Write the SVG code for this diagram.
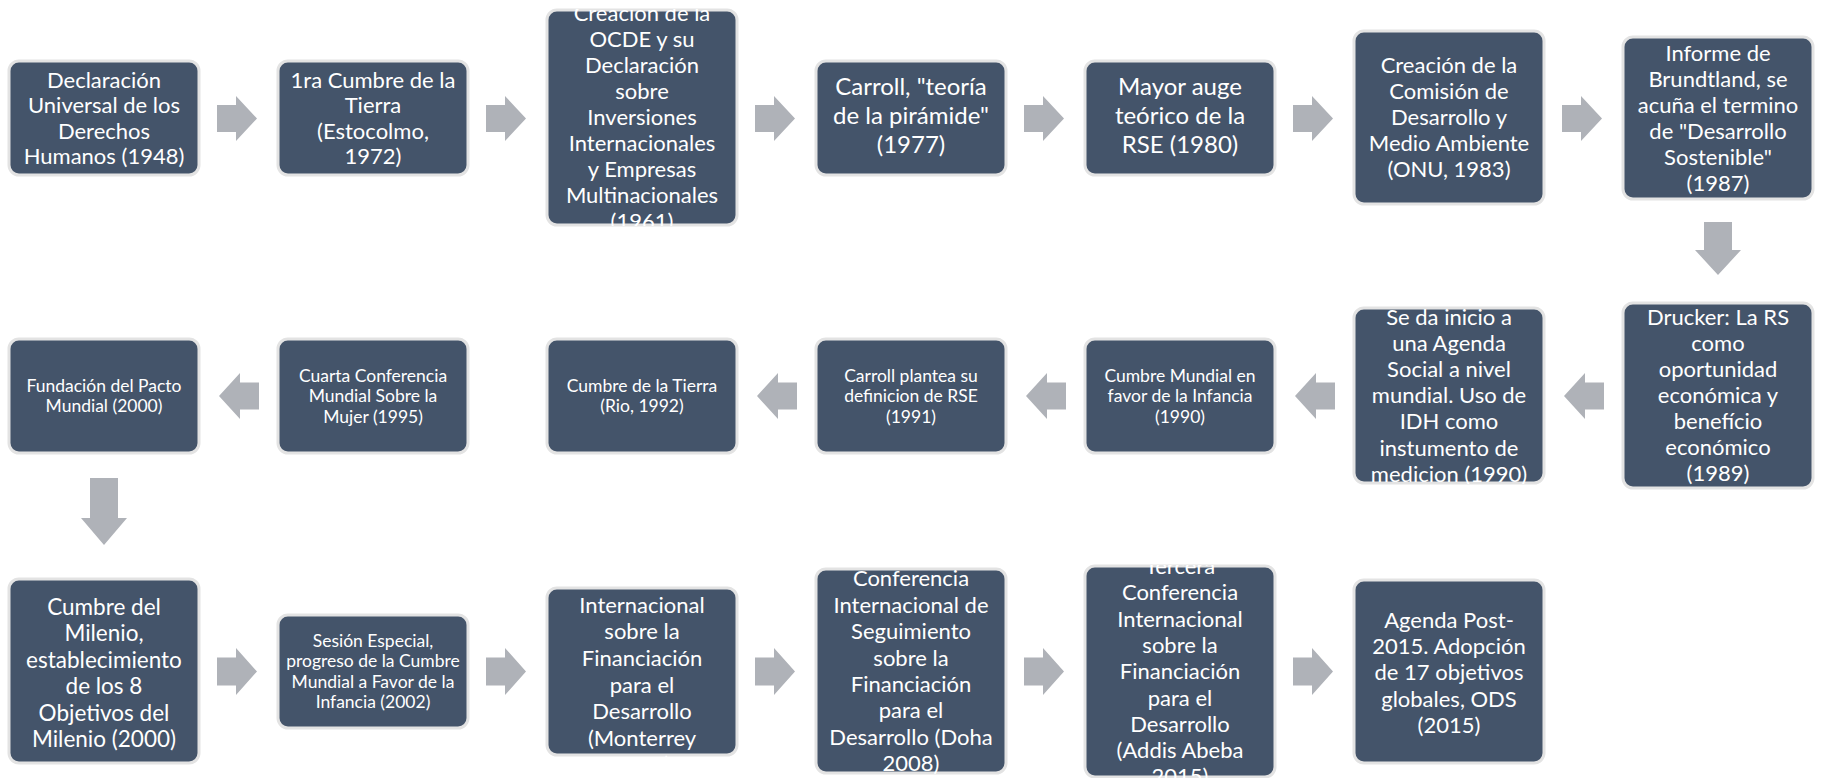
<svg xmlns="http://www.w3.org/2000/svg" width="1821" height="778" viewBox="0 0 1821 778">
<style>
.box{fill:#44546A;stroke:#E3E3E3;stroke-width:3}
.arr{fill:#AFB2B8}
text{font-family:Lato,"Liberation Sans",sans-serif;fill:#FFFFFF;text-anchor:middle}
.t22{font-size:22px}
.t24{font-size:24px}
.t225{font-size:22.5px}
.t17{font-size:17.5px}
</style>
<defs>
<clipPath id="cB3"><rect x="546" y="9" width="192" height="217" rx="10"/></clipPath>
<clipPath id="cR6"><rect x="1353" y="307" width="192" height="177" rx="10"/></clipPath>
<clipPath id="cC3"><rect x="546" y="587" width="192" height="170" rx="10"/></clipPath>
<clipPath id="cC4"><rect x="815" y="568" width="192" height="206" rx="10"/></clipPath>
<clipPath id="cC5"><rect x="1084" y="565" width="192" height="213" rx="10"/></clipPath>
</defs>
<rect width="1821" height="778" fill="#FFFFFF"/>

<g id="connectors">
<polygon class="arr" points="217,105 236,105 236,96 257,118.5 236,141 236,132 217,132"/>
<polygon class="arr" points="486,105 505,105 505,96 526,118.5 505,141 505,132 486,132"/>
<polygon class="arr" points="755,105 774,105 774,96 795,118.5 774,141 774,132 755,132"/>
<polygon class="arr" points="1024,105 1043,105 1043,96 1064,118.5 1043,141 1043,132 1024,132"/>
<polygon class="arr" points="1293,105 1312,105 1312,96 1333,118.5 1312,141 1312,132 1293,132"/>
<polygon class="arr" points="1562,105 1581,105 1581,96 1602,118.5 1581,141 1581,132 1562,132"/>
<polygon class="arr" points="1704,222 1732,222 1732,250 1741,250 1718,275 1695,250 1704,250"/>
<polygon class="arr" points="1564,396 1585,373 1585,382.5 1604,382.5 1604,409.5 1585,409.5 1585,419"/>
<polygon class="arr" points="1295,396 1316,373 1316,382.5 1335,382.5 1335,409.5 1316,409.5 1316,419"/>
<polygon class="arr" points="1026,396 1047,373 1047,382.5 1066,382.5 1066,409.5 1047,409.5 1047,419"/>
<polygon class="arr" points="757,396 778,373 778,382.5 797,382.5 797,409.5 778,409.5 778,419"/>
<polygon class="arr" points="219,396 240,373 240,382.5 259,382.5 259,409.5 240,409.5 240,419"/>
<polygon class="arr" points="90,478 118,478 118,518 127,518 104,545 81,518 90,518"/>
<polygon class="arr" points="217,657.5 236,657.5 236,648 257,671.5 236,695 236,685.5 217,685.5"/>
<polygon class="arr" points="486,657.5 505,657.5 505,648 526,671.5 505,695 505,685.5 486,685.5"/>
<polygon class="arr" points="755,657.5 774,657.5 774,648 795,671.5 774,695 774,685.5 755,685.5"/>
<polygon class="arr" points="1024,657.5 1043,657.5 1043,648 1064,671.5 1043,695 1043,685.5 1024,685.5"/>
<polygon class="arr" points="1293,657.5 1312,657.5 1312,648 1333,671.5 1312,695 1312,685.5 1293,685.5"/>
</g>

<g id="n1">
<rect class="box" x="9" y="61" width="190" height="114" rx="10"/>
<text class="t22"><tspan x="104" y="88">Declaración</tspan><tspan x="104" y="113">Universal de los</tspan><tspan x="104" y="139">Derechos</tspan><tspan x="104" y="164">Humanos (1948)</tspan></text>
</g>
<g id="n2">
<rect class="box" x="278" y="61" width="190" height="114" rx="10"/>
<text class="t22"><tspan x="373" y="88">1ra Cumbre de la</tspan><tspan x="373" y="113">Tierra</tspan><tspan x="373" y="139">(Estocolmo,</tspan><tspan x="373" y="164">1972)</tspan></text>
</g>
<g id="n3">
<rect class="box" x="547" y="10" width="190" height="215" rx="10"/>
<text class="t22" clip-path="url(#cB3)"><tspan x="642" y="21.2">Creación de la</tspan><tspan x="642" y="47.2">OCDE y su</tspan><tspan x="642" y="73.2">Declaración</tspan><tspan x="642" y="99.2">sobre</tspan><tspan x="642" y="125.2">Inversiones</tspan><tspan x="642" y="151.2">Internacionales</tspan><tspan x="642" y="177.2">y Empresas</tspan><tspan x="642" y="203.2">Multinacionales</tspan><tspan x="642" y="229.2">(1961)</tspan></text>
</g>
<g id="n4">
<rect class="box" x="816" y="61" width="190" height="114" rx="10"/>
<text class="t24"><tspan x="911" y="95.4">Carroll, "teoría</tspan><tspan x="911" y="124.4">de la pirámide"</tspan><tspan x="911" y="153.4">(1977)</tspan></text>
</g>
<g id="n5">
<rect class="box" x="1085" y="61" width="190" height="114" rx="10"/>
<text class="t24"><tspan x="1180" y="95.4">Mayor auge</tspan><tspan x="1180" y="124.4">teórico de la</tspan><tspan x="1180" y="153.4">RSE (1980)</tspan></text>
</g>
<g id="n6">
<rect class="box" x="1354" y="31" width="190" height="173" rx="10"/>
<text class="t22"><tspan x="1449" y="73.2">Creación de la</tspan><tspan x="1449" y="99.2">Comisión de</tspan><tspan x="1449" y="125.2">Desarrollo y</tspan><tspan x="1449" y="151.2">Medio Ambiente</tspan><tspan x="1449" y="177.2">(ONU, 1983)</tspan></text>
</g>
<g id="n7">
<rect class="box" x="1623" y="37" width="190" height="162" rx="10"/>
<text class="t22"><tspan x="1718" y="60.7">Informe de</tspan><tspan x="1718" y="86.7">Brundtland, se</tspan><tspan x="1718" y="112.7">acuña el termino</tspan><tspan x="1718" y="138.7">de "Desarrollo</tspan><tspan x="1718" y="164.7">Sostenible"</tspan><tspan x="1718" y="190.7">(1987)</tspan></text>
</g>

<g id="n8">
<rect class="box" x="1623" y="303" width="190" height="185" rx="10"/>
<text class="t22"><tspan x="1718" y="325.2">Drucker: La RS</tspan><tspan x="1718" y="351.2">como</tspan><tspan x="1718" y="377.2">oportunidad</tspan><tspan x="1718" y="403.2">económica y</tspan><tspan x="1718" y="429.2">benefício</tspan><tspan x="1718" y="455.2">económico</tspan><tspan x="1718" y="481.2">(1989)</tspan></text>
</g>
<g id="n9">
<rect class="box" x="1354" y="308" width="190" height="175" rx="10"/>
<text class="t22" clip-path="url(#cR6)"><tspan x="1449" y="324.7">Se da inicio a</tspan><tspan x="1449" y="350.9">una Agenda</tspan><tspan x="1449" y="377">Social a nivel</tspan><tspan x="1449" y="403.2">mundial. Uso de</tspan><tspan x="1449" y="429.4">IDH como</tspan><tspan x="1449" y="455.6">instumento de</tspan><tspan x="1449" y="481.7">medicion (1990)</tspan></text>
</g>
<g id="n10">
<rect class="box" x="1085" y="339" width="190" height="114" rx="10"/>
<text class="t17"><tspan x="1180" y="381.6">Cumbre Mundial en</tspan><tspan x="1180" y="402.1">favor de la Infancia</tspan><tspan x="1180" y="422.6">(1990)</tspan></text>
</g>
<g id="n11">
<rect class="box" x="816" y="339" width="190" height="114" rx="10"/>
<text class="t17"><tspan x="911" y="381.6">Carroll plantea su</tspan><tspan x="911" y="402.1">definicion de RSE</tspan><tspan x="911" y="422.6">(1991)</tspan></text>
</g>
<g id="n12">
<rect class="box" x="547" y="339" width="190" height="114" rx="10"/>
<text class="t17"><tspan x="642" y="391.9">Cumbre de la Tierra</tspan><tspan x="642" y="412.4">(Rio, 1992)</tspan></text>
</g>
<g id="n13">
<rect class="box" x="278" y="339" width="190" height="114" rx="10"/>
<text class="t17"><tspan x="373" y="381.6">Cuarta Conferencia</tspan><tspan x="373" y="402.1">Mundial Sobre la</tspan><tspan x="373" y="422.6">Mujer (1995)</tspan></text>
</g>
<g id="n14">
<rect class="box" x="9" y="339" width="190" height="114" rx="10"/>
<text class="t17"><tspan x="104" y="391.9">Fundación del Pacto</tspan><tspan x="104" y="412.4">Mundial (2000)</tspan></text>
</g>

<g id="n15">
<rect class="box" x="9" y="579" width="190" height="184" rx="10"/>
<text class="t225"><tspan x="104" y="614.6">Cumbre del</tspan><tspan x="104" y="641.1">Milenio,</tspan><tspan x="104" y="667.6">establecimiento</tspan><tspan x="104" y="694.1">de los 8</tspan><tspan x="104" y="720.6">Objetivos del</tspan><tspan x="104" y="747.1">Milenio (2000)</tspan></text>
</g>
<g id="n16">
<rect class="box" x="278" y="615" width="190" height="113" rx="10"/>
<text class="t17"><tspan x="373" y="646.9">Sesión Especial,</tspan><tspan x="373" y="667.4">progreso de la Cumbre</tspan><tspan x="373" y="687.9">Mundial a Favor de la</tspan><tspan x="373" y="708.4">Infancia (2002)</tspan></text>
</g>
<g id="n17">
<rect class="box" x="547" y="588" width="190" height="167" rx="10"/>
<text class="t22" clip-path="url(#cC3)"><tspan x="642" y="612.7">Internacional</tspan><tspan x="642" y="639.3">sobre la</tspan><tspan x="642" y="665.9">Financiación</tspan><tspan x="642" y="692.5">para el</tspan><tspan x="642" y="719.1">Desarrollo</tspan><tspan x="642" y="745.7">(Monterrey</tspan><tspan x="642" y="772.3">2002)</tspan></text>
</g>
<g id="n18">
<rect class="box" x="816" y="569" width="190" height="204" rx="10"/>
<text class="t22" clip-path="url(#cC4)"><tspan x="911" y="586.3">Conferencia</tspan><tspan x="911" y="612.7">Internacional de</tspan><tspan x="911" y="639.1">Seguimiento</tspan><tspan x="911" y="665.5">sobre la</tspan><tspan x="911" y="691.9">Financiación</tspan><tspan x="911" y="718.3">para el</tspan><tspan x="911" y="744.7">Desarrollo (Doha</tspan><tspan x="911" y="771.1">2008)</tspan></text>
</g>
<g id="n19">
<rect class="box" x="1085" y="566" width="190" height="211" rx="10"/>
<text class="t22" clip-path="url(#cC5)"><tspan x="1180" y="574">Tercera</tspan><tspan x="1180" y="600.3">Conferencia</tspan><tspan x="1180" y="626.6">Internacional</tspan><tspan x="1180" y="652.9">sobre la</tspan><tspan x="1180" y="679.2">Financiación</tspan><tspan x="1180" y="705.5">para el</tspan><tspan x="1180" y="731.8">Desarrollo</tspan><tspan x="1180" y="758.1">(Addis Abeba</tspan><tspan x="1180" y="784.4">2015)</tspan></text>
</g>
<g id="n20">
<rect class="box" x="1354" y="580" width="190" height="183" rx="10"/>
<text class="t22"><tspan x="1449" y="627.6">Agenda Post-</tspan><tspan x="1449" y="653.9">2015. Adopción</tspan><tspan x="1449" y="680.2">de 17 objetivos</tspan><tspan x="1449" y="706.5">globales, ODS</tspan><tspan x="1449" y="732.8">(2015)</tspan></text>
</g>
</svg>
